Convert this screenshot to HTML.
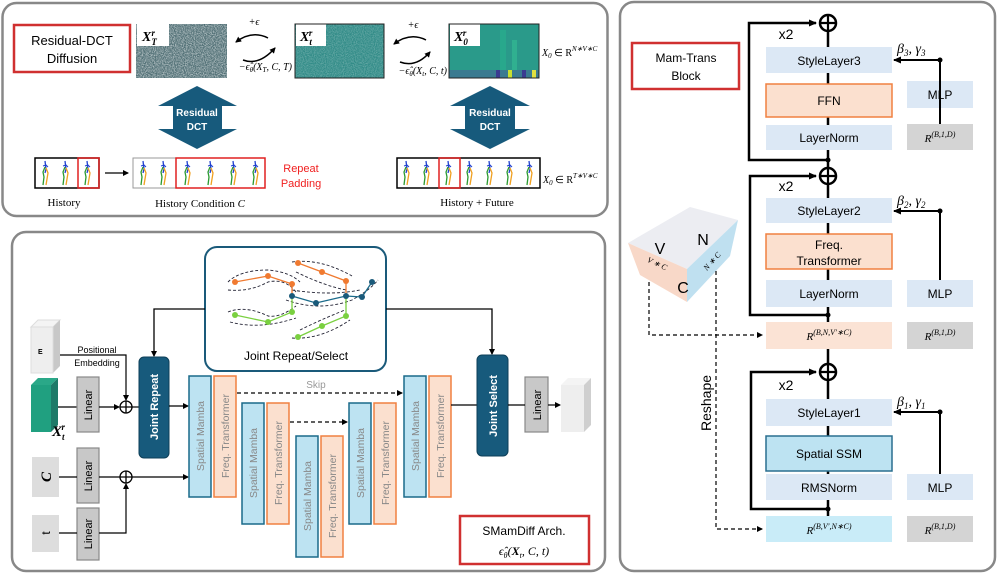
<!DOCTYPE html>
<html><head><meta charset="utf-8"><style>
body{margin:0;background:#fff}
svg{display:block;font-family:"Liberation Sans",sans-serif}
.m{font-family:"Liberation Serif",serif;font-style:italic}
</style></head><body>
<svg width="997" height="574" viewBox="0 0 997 574" xmlns="http://www.w3.org/2000/svg">
<defs>
<marker id="ah" markerWidth="8" markerHeight="8" refX="7" refY="4" orient="auto" markerUnits="userSpaceOnUse"><path d="M0,0.5 L8,4 L0,7.5z" fill="#000"/></marker>
<marker id="ahs" markerWidth="6" markerHeight="6" refX="5" refY="3" orient="auto" markerUnits="userSpaceOnUse"><path d="M0,0 L6,3 L0,6z" fill="#000"/></marker>
<filter id="nz" x="0" y="0" width="100%" height="100%"><feTurbulence type="fractalNoise" baseFrequency="0.9" numOctaves="2" seed="3"/><feColorMatrix type="matrix" values="0 0 0 0 1  0 0 0 0 1  0 0 0 0 1  1.6 0 0 0 -0.5"/></filter>
<symbol id="fig" viewBox="0 0 12 28" width="12" height="28">
<path d="M5,2 L6,10 L5,14" stroke="#2040d0" stroke-width="1.3" fill="none"/>
<path d="M3,7 L6,6 L8,8" stroke="#2040d0" stroke-width="1" fill="none"/>
<path d="M5,8 L3,13 L4,18 L3,26" stroke="#2a9a30" stroke-width="1.3" fill="none"/>
<path d="M6,9 L8,14 L7,20 L6,26" stroke="#f0a020" stroke-width="1.3" fill="none"/>
</symbol>
</defs>

<!-- Top-left panel -->
<rect x="2.5" y="3" width="605" height="213" rx="14" fill="#fff" stroke="#888" stroke-width="2.5"/>
<rect x="14" y="25" width="116" height="47" fill="#fff" stroke="#d03030" stroke-width="2.5"/>
<text x="72" y="45" font-size="13" text-anchor="middle">Residual-DCT</text>
<text x="72" y="63" font-size="13" text-anchor="middle">Diffusion</text>

<rect x="136" y="24" width="91" height="54" fill="#4a6a70"/>
<rect x="136" y="24" width="91" height="54" filter="url(#nz)" opacity="0.8"/>
<rect x="137" y="24" width="32" height="22" fill="#fff"/>
<text x="142" y="41" class="m" font-size="14" font-weight="bold">X<tspan font-size="9" dy="4">T</tspan><tspan font-size="9" dy="-9" dx="-5">r</tspan></text>

<rect x="295" y="24" width="89" height="54" fill="#2f8a86"/>
<rect x="295" y="24" width="89" height="54" filter="url(#nz)" opacity="0.35"/>
<rect x="296" y="24" width="30" height="22" fill="#fff"/>
<text x="300" y="41" class="m" font-size="14" font-weight="bold">X<tspan font-size="9" dy="4">t</tspan><tspan font-size="9" dy="-9" dx="-3">r</tspan></text>
<rect x="295" y="24" width="89" height="54" fill="none" stroke="#222" stroke-width="1"/>

<rect x="449" y="24" width="90" height="54" fill="#2a9a8a"/>
<rect x="500" y="30" width="6" height="48" fill="#28a88c"/>
<rect x="512" y="40" width="5" height="38" fill="#30b090"/>
<rect x="449" y="70" width="90" height="8" fill="#3a7a90"/>
<rect x="496" y="70" width="4" height="8" fill="#3a3a90"/><rect x="508" y="70" width="4" height="8" fill="#c8e030"/><rect x="522" y="70" width="4" height="8" fill="#3a3a90"/><rect x="532" y="70" width="4" height="8" fill="#e0e040"/>
<rect x="450" y="24" width="30" height="22" fill="#fff"/>
<text x="454" y="41" class="m" font-size="14" font-weight="bold">X<tspan font-size="9" dy="4">0</tspan><tspan font-size="9" dy="-9" dx="-5">r</tspan></text>
<rect x="449" y="24" width="90" height="54" fill="none" stroke="#222" stroke-width="1"/>

<text x="254" y="25" font-size="10" text-anchor="middle" class="m" font-style="normal">+ϵ</text>
<path d="M268,38 Q252,30 236,42" stroke="#000" stroke-width="1.5" fill="none" marker-end="url(#ahs)"/>
<path d="M243,60 Q259,66 275,48" stroke="#000" stroke-width="1.5" fill="none" marker-end="url(#ahs)"/>
<text x="292" y="70" font-size="10" text-anchor="end" class="m">−ϵ̂<tspan font-size="7" dy="2">θ</tspan><tspan dy="-2">(X</tspan><tspan font-size="7" dy="2">T</tspan><tspan dy="-2">, C, T)</tspan></text>
<text x="413" y="28" font-size="10" text-anchor="middle" class="m" font-style="normal">+ϵ</text>
<path d="M426,40 Q410,32 394,44" stroke="#000" stroke-width="1.5" fill="none" marker-end="url(#ahs)"/>
<path d="M400,62 Q416,68 430,52" stroke="#000" stroke-width="1.5" fill="none" marker-end="url(#ahs)"/>
<text x="447" y="74" font-size="10" text-anchor="end" class="m">−ϵ̂<tspan font-size="7" dy="2">θ</tspan><tspan dy="-2">(X</tspan><tspan font-size="7" dy="2">t</tspan><tspan dy="-2">, C, t)</tspan></text>
<text x="542" y="56" font-size="10" class="m">X<tspan font-size="7" dy="2">0</tspan><tspan dy="-2" font-style="normal"> ∈ R</tspan><tspan font-size="7" dy="-5">N∗V∗C</tspan></text>

<polygon points="197,86 237,106 222,106 222,129 237,129 197,149 158,129 173,129 173,106 158,106" fill="#175a7c"/>
<text x="197" y="116" font-size="10" font-weight="bold" fill="#fff" text-anchor="middle">Residual</text>
<text x="197" y="130" font-size="10" font-weight="bold" fill="#fff" text-anchor="middle">DCT</text>
<polygon points="490,86 530,106 515,106 515,129 530,129 490,149 450,129 465,129 465,106 450,106" fill="#175a7c"/>
<text x="490" y="116" font-size="10" font-weight="bold" fill="#fff" text-anchor="middle">Residual</text>
<text x="490" y="130" font-size="10" font-weight="bold" fill="#fff" text-anchor="middle">DCT</text>

<rect x="35" y="158" width="64" height="30" fill="#fff" stroke="#000" stroke-width="1.5"/>
<use href="#fig" x="40" y="159"/><use href="#fig" x="60" y="159"/><use href="#fig" x="82" y="159"/>
<rect x="78" y="158" width="21" height="30" fill="none" stroke="#e02020" stroke-width="1.5"/>
<line x1="105" y1="173" x2="128" y2="173" stroke="#000" stroke-width="1.3" marker-end="url(#ahs)"/>
<rect x="133" y="158" width="132" height="30" fill="#fff" stroke="#999" stroke-width="1"/>
<use href="#fig" x="138" y="159"/><use href="#fig" x="158" y="159"/><use href="#fig" x="182" y="159"/><use href="#fig" x="205" y="159"/><use href="#fig" x="228" y="159"/><use href="#fig" x="250" y="159"/>
<rect x="176" y="158" width="89" height="30" fill="none" stroke="#e02020" stroke-width="1.5"/>
<text x="301" y="172" font-size="11" fill="#f02020" text-anchor="middle">Repeat</text>
<text x="301" y="187" font-size="11" fill="#f02020" text-anchor="middle">Padding</text>
<rect x="397" y="158" width="143" height="30" fill="#fff" stroke="#000" stroke-width="1.5"/>
<use href="#fig" x="401" y="159"/><use href="#fig" x="421" y="159"/><use href="#fig" x="443" y="159"/><use href="#fig" x="464" y="159"/><use href="#fig" x="484" y="159"/><use href="#fig" x="504" y="159"/><use href="#fig" x="524" y="159"/>
<rect x="439" y="158" width="21" height="30" fill="none" stroke="#e02020" stroke-width="1.5"/>
<text x="543" y="183" font-size="10" class="m">X<tspan font-size="7" dy="2">0</tspan><tspan dy="-2" font-style="normal"> ∈ R</tspan><tspan font-size="7" dy="-5">T∗V∗C</tspan></text>
<text x="64" y="206" font-size="11" text-anchor="middle" font-family="Liberation Serif,serif">History</text>
<text x="200" y="207" font-size="11" text-anchor="middle" font-family="Liberation Serif,serif">History Condition <tspan class="m">C</tspan></text>
<text x="477" y="206" font-size="11" text-anchor="middle" font-family="Liberation Serif,serif">History + Future</text>

<!-- Bottom-left panel -->
<rect x="12" y="232" width="593" height="339" rx="14" fill="#fff" stroke="#888" stroke-width="2.5"/>
<rect x="205" y="247" width="181" height="124" rx="12" fill="#fff" stroke="#1a5a7a" stroke-width="2"/>
<g fill="none" stroke="#223" stroke-width="0.9" stroke-dasharray="3,2">
<path d="M228,282 Q240,270 268,270 Q290,272 300,282 M228,290 Q250,292 268,282 Q285,278 296,292"/>
<path d="M292,262 Q320,258 352,276 M296,272 Q325,286 346,290"/>
<path d="M286,300 Q320,312 352,300 Q370,290 378,280 M292,290 Q330,296 360,290"/>
<path d="M228,312 Q245,305 268,316 Q280,318 296,306 M230,322 Q260,330 296,318"/>
<path d="M292,338 Q320,340 350,320 M300,330 Q320,320 345,310"/>
</g>
<g stroke-width="1.3" fill="none">
<path d="M235,282 L268,276 L292,284 L292,296" stroke="#f07a30"/>
<path d="M298,263 L322,272 L346,281 L346,296" stroke="#f07a30"/>
<path d="M292,296 L316,303 L346,296 L362,297 L372,282" stroke="#1a6a8a"/>
<path d="M235,315 L268,322 L292,312 L292,296" stroke="#7ad040"/>
<path d="M298,337 L322,326 L346,316 L346,296" stroke="#7ad040"/>
</g>
<g fill="#f07a30"><circle cx="235" cy="282" r="3"/><circle cx="268" cy="276" r="3"/><circle cx="292" cy="284" r="3"/><circle cx="298" cy="263" r="3"/><circle cx="322" cy="272" r="3"/><circle cx="346" cy="281" r="3"/></g>
<g fill="#1a5a7a"><circle cx="292" cy="296" r="3"/><circle cx="316" cy="303" r="3"/><circle cx="346" cy="296" r="3"/><circle cx="362" cy="297" r="3"/><circle cx="372" cy="282" r="3"/></g>
<g fill="#7ad040"><circle cx="235" cy="315" r="3"/><circle cx="268" cy="322" r="3"/><circle cx="292" cy="312" r="3"/><circle cx="298" cy="337" r="3"/><circle cx="322" cy="326" r="3"/><circle cx="346" cy="316" r="3"/></g>
<text x="296" y="360" font-size="12" text-anchor="middle">Joint Repeat/Select</text>
<path d="M205,309 H154 V356" stroke="#000" stroke-width="1.3" fill="none" marker-end="url(#ahs)"/>
<path d="M386,309 H492 V354" stroke="#000" stroke-width="1.3" fill="none" marker-end="url(#ahs)"/>

<!-- E cube -->
<polygon points="31,327 38,320 60,320 53,327" fill="#f4f4f4" stroke="#ddd"/>
<polygon points="53,327 60,320 60,366 53,373" fill="#c8c8c8"/>
<rect x="31" y="327" width="22" height="46" fill="#eee" stroke="#ddd"/>
<text x="38" y="354" font-size="7" font-weight="bold">E</text>
<text x="97" y="353" font-size="9" text-anchor="middle">Positional</text>
<text x="97" y="366" font-size="9" text-anchor="middle">Embedding</text>
<path d="M60,355 H126 V400" stroke="#000" stroke-width="1.2" fill="none" marker-end="url(#ahs)"/>
<!-- green cube -->
<polygon points="31,385 38,378 58,378 51,385" fill="#2aa888"/>
<polygon points="51,385 58,378 58,425 51,432" fill="#1e7a68"/>
<rect x="31" y="385" width="20" height="47" fill="#20a080"/>
<text x="52" y="436" class="m" font-size="15" font-weight="bold">X<tspan font-size="9" dy="4">t</tspan><tspan font-size="9" dy="-10" dx="-3">r</tspan></text>
<line x1="58" y1="407" x2="77" y2="407" stroke="#000" stroke-width="1.2"/>
<g fill="#c8c8c8" stroke="#888" stroke-width="1.2">
<rect x="77" y="377" width="22" height="55"/><rect x="77" y="448" width="22" height="55"/><rect x="77" y="508" width="22" height="52"/><rect x="525" y="377" width="23" height="55"/>
</g>
<g font-size="11" text-anchor="middle">
<text transform="translate(92,405) rotate(-90)">Linear</text>
<text transform="translate(92,476) rotate(-90)">Linear</text>
<text transform="translate(92,534) rotate(-90)">Linear</text>
<text transform="translate(541,405) rotate(-90)">Linear</text>
</g>
<rect x="32" y="457" width="27" height="40" fill="#ddd"/>
<text x="46" y="482" class="m" font-size="15" font-weight="bold" text-anchor="middle" transform="rotate(-90 46 477)">C</text>
<rect x="32" y="515" width="27" height="37" fill="#ddd"/>
<text x="46" y="537" font-size="12" text-anchor="middle" transform="rotate(-90 46 533)">t</text>
<line x1="59" y1="477" x2="77" y2="477" stroke="#000" stroke-width="1.2"/>
<line x1="59" y1="533" x2="77" y2="533" stroke="#000" stroke-width="1.2"/>
<line x1="99" y1="407" x2="119" y2="407" stroke="#000" stroke-width="1.2" marker-end="url(#ahs)"/>
<circle cx="126" cy="407" r="6" fill="#fff" stroke="#000" stroke-width="1.3"/><path d="M120,407 H132 M126,401 V413" stroke="#000" stroke-width="1.3"/>
<line x1="132" y1="407" x2="139" y2="407" stroke="#000" stroke-width="1.2"/>
<line x1="99" y1="477" x2="120" y2="477" stroke="#000" stroke-width="1.2"/>
<circle cx="126" cy="477" r="6" fill="#fff" stroke="#000" stroke-width="1.3"/><path d="M120,477 H132 M126,471 V483" stroke="#000" stroke-width="1.3"/>
<path d="M99,533 H126 V484" stroke="#000" stroke-width="1.2" fill="none" marker-end="url(#ahs)"/>
<line x1="132" y1="477" x2="188" y2="477" stroke="#000" stroke-width="1.2" marker-end="url(#ahs)"/>
<rect x="139" y="357" width="30" height="101" rx="5" fill="#175a7c" stroke="#0e3f58"/>
<text transform="translate(158,407) rotate(-90)" font-size="11" font-weight="bold" fill="#fff" text-anchor="middle">Joint Repeat</text>
<line x1="169" y1="406" x2="188" y2="406" stroke="#000" stroke-width="1.2" marker-end="url(#ahs)"/>

<g stroke-width="1.5">
<rect x="189" y="376" width="22" height="121" fill="#bde3f2" stroke="#1a6a8a"/><rect x="214" y="376" width="22" height="121" fill="#fbe0cf" stroke="#f08040"/>
<rect x="242" y="403" width="22" height="121" fill="#bde3f2" stroke="#1a6a8a"/><rect x="267" y="403" width="22" height="121" fill="#fbe0cf" stroke="#f08040"/>
<rect x="296" y="436" width="22" height="121" fill="#bde3f2" stroke="#1a6a8a"/><rect x="321" y="436" width="22" height="121" fill="#fbe0cf" stroke="#f08040"/>
<rect x="349" y="403" width="22" height="121" fill="#bde3f2" stroke="#1a6a8a"/><rect x="374" y="403" width="22" height="121" fill="#fbe0cf" stroke="#f08040"/>
<rect x="404" y="376" width="22" height="121" fill="#bde3f2" stroke="#1a6a8a"/><rect x="429" y="376" width="22" height="121" fill="#fbe0cf" stroke="#f08040"/>
</g>
<g font-size="10.5" fill="#888" text-anchor="middle">
<text transform="translate(204,436) rotate(-90)">Spatial Mamba</text><text transform="translate(229,436) rotate(-90)">Freq. Transformer</text>
<text transform="translate(257,463) rotate(-90)">Spatial Mamba</text><text transform="translate(282,463) rotate(-90)">Freq. Transformer</text>
<text transform="translate(311,496) rotate(-90)">Spatial Mamba</text><text transform="translate(336,496) rotate(-90)">Freq. Transformer</text>
<text transform="translate(364,463) rotate(-90)">Spatial Mamba</text><text transform="translate(389,463) rotate(-90)">Freq. Transformer</text>
<text transform="translate(419,436) rotate(-90)">Spatial Mamba</text><text transform="translate(444,436) rotate(-90)">Freq. Transformer</text>
</g>
<line x1="237" y1="393" x2="402" y2="393" stroke="#000" stroke-width="1.3" stroke-dasharray="4,3" marker-end="url(#ahs)"/>
<text x="316" y="388" font-size="10" fill="#999" text-anchor="middle">Skip</text>
<line x1="290" y1="422" x2="347" y2="422" stroke="#000" stroke-width="1.3" stroke-dasharray="4,3" marker-end="url(#ahs)"/>
<line x1="451" y1="405" x2="477" y2="405" stroke="#000" stroke-width="1.2"/>
<rect x="477" y="355" width="31" height="101" rx="5" fill="#175a7c" stroke="#0e3f58"/>
<text transform="translate(497,406) rotate(-90)" font-size="11" font-weight="bold" fill="#fff" text-anchor="middle">Joint Select</text>
<line x1="508" y1="405" x2="525" y2="405" stroke="#000" stroke-width="1.2"/>
<line x1="548" y1="405" x2="560" y2="405" stroke="#000" stroke-width="1.2" marker-end="url(#ahs)"/>
<polygon points="561,385 568,378 591,378 584,385" fill="#f4f4f4"/>
<polygon points="584,385 591,378 591,425 584,432" fill="#cfcfcf"/>
<rect x="561" y="385" width="23" height="47" fill="#eee"/>
<rect x="460" y="516" width="129" height="48" fill="#fff" stroke="#d03030" stroke-width="2.5"/>
<text x="524" y="535" font-size="12" text-anchor="middle">SMamDiff Arch.</text>
<text x="524" y="555" font-size="12" text-anchor="middle" class="m">ϵ̂<tspan font-size="8" dy="3">θ</tspan><tspan dy="-3">(</tspan><tspan font-weight="bold">X</tspan><tspan font-size="8" dy="3">t</tspan><tspan dy="-3">, C, t)</tspan></text>

<!-- Right panel -->
<rect x="620" y="2" width="375" height="569" rx="14" fill="#fff" stroke="#888" stroke-width="2.5"/>
<rect x="632" y="43" width="107" height="46" fill="#fff" stroke="#d03030" stroke-width="2.5"/>
<text x="686" y="62" font-size="12" text-anchor="middle">Mam-Trans</text>
<text x="686" y="80" font-size="12" text-anchor="middle">Block</text>

<line x1="828" y1="30" x2="828" y2="516" stroke="#000" stroke-width="2.5"/>
<g fill="#dce8f5">
<rect x="766" y="47" width="126" height="26"/><rect x="766" y="125" width="126" height="25"/>
<rect x="766" y="198" width="126" height="25"/><rect x="766" y="280" width="126" height="27"/>
<rect x="766" y="399" width="126" height="27"/><rect x="766" y="474" width="126" height="26"/>
<rect x="907" y="81" width="66" height="27"/><rect x="907" y="280" width="66" height="27"/><rect x="907" y="474" width="66" height="26"/>
</g>
<rect x="766" y="84" width="126" height="33" fill="#fbe0cf" stroke="#f08040" stroke-width="1.5"/>
<rect x="766" y="234" width="126" height="35" fill="#fbe0cf" stroke="#f08040" stroke-width="1.5"/>
<rect x="766" y="436" width="126" height="35" fill="#bde3f2" stroke="#2a6f8f" stroke-width="1.5"/>
<rect x="766" y="322" width="126" height="27" fill="#fbe3d5"/>
<rect x="766" y="516" width="126" height="26" fill="#c9ecf8"/>
<g fill="#d4d4d4"><rect x="907" y="124" width="66" height="26"/><rect x="907" y="322" width="66" height="27"/><rect x="907" y="516" width="66" height="26"/></g>
<g font-size="12" text-anchor="middle">
<text x="829" y="65">StyleLayer3</text><text x="829" y="105">FFN</text><text x="829" y="142">LayerNorm</text>
<text x="829" y="215">StyleLayer2</text><text x="829" y="249">Freq.</text><text x="829" y="265">Transformer</text><text x="829" y="298">LayerNorm</text>
<text x="829" y="417">StyleLayer1</text><text x="829" y="458">Spatial SSM</text><text x="829" y="492">RMSNorm</text>
<text x="940" y="99">MLP</text><text x="940" y="298">MLP</text><text x="940" y="492">MLP</text>
</g>
<g font-size="11" text-anchor="middle" font-family="Liberation Serif,serif" font-style="italic">
<text x="940" y="142">R<tspan font-size="8" dy="-5">(B,1,D)</tspan></text>
<text x="940" y="340">R<tspan font-size="8" dy="-5">(B,1,D)</tspan></text>
<text x="940" y="534">R<tspan font-size="8" dy="-5">(B,1,D)</tspan></text>
<text x="829" y="340">R<tspan font-size="8" dy="-5">(B,N,V′∗C)</tspan></text>
<text x="829" y="534">R<tspan font-size="8" dy="-5">(B,V′,N∗C)</tspan></text>
</g>
<!-- loops -->
<g stroke="#000" stroke-width="2.5" fill="none">
<path d="M828,160 H749 V23 H816" marker-end="url(#ah)"/>
<path d="M828,315 H750 V176 H816" marker-end="url(#ah)"/>
<path d="M828,509 H751 V372 H816" marker-end="url(#ah)"/>
</g>
<g fill="#fff" stroke="#000" stroke-width="2.5">
<circle cx="828" cy="23" r="8"/><circle cx="828" cy="176" r="8"/><circle cx="828" cy="372" r="8"/>
</g>
<path d="M820,23 H836 M828,15 V31 M820,176 H836 M828,168 V184 M820,372 H836 M828,364 V380" stroke="#000" stroke-width="2.2"/>
<g fill="#000"><circle cx="828" cy="160" r="2.5"/><circle cx="828" cy="315" r="2.5"/><circle cx="828" cy="509" r="2.5"/></g>
<g font-size="14" text-anchor="middle"><text x="786" y="39">x2</text><text x="786" y="191">x2</text><text x="786" y="390">x2</text></g>
<g stroke="#000" stroke-width="2" fill="none">
<path d="M940,124 V60 H894" marker-end="url(#ah)"/>
<path d="M940,280 V211 H894" marker-end="url(#ah)"/>
<path d="M940,474 V412 H894" marker-end="url(#ah)"/>
</g>
<g fill="#000"><circle cx="940" cy="60" r="2.5"/><circle cx="940" cy="211" r="2.5"/><circle cx="940" cy="412" r="2.5"/></g>
<g font-size="14" font-family="Liberation Serif,serif" font-style="italic">
<text x="897" y="53">β<tspan font-size="9" dy="3">3</tspan><tspan dy="-3">, γ</tspan><tspan font-size="9" dy="3">3</tspan></text>
<text x="897" y="205">β<tspan font-size="9" dy="3">2</tspan><tspan dy="-3">, γ</tspan><tspan font-size="9" dy="3">2</tspan></text>
<text x="897" y="406">β<tspan font-size="9" dy="3">1</tspan><tspan dy="-3">, γ</tspan><tspan font-size="9" dy="3">1</tspan></text>
</g>
<!-- cube -->
<polygon points="628,243 690,207 738,220 687,269" fill="#ecedf2"/>
<polygon points="628,243 687,269 687,302 640,275" fill="#f8d8c8"/>
<polygon points="687,269 738,220 730,256 687,302" fill="#bfe0f0"/>
<text x="660" y="254" font-size="16" text-anchor="middle">V</text>
<text x="703" y="245" font-size="16" text-anchor="middle">N</text>
<text x="683" y="293" font-size="16" text-anchor="middle">C</text>
<text transform="translate(656,266) rotate(25)" font-size="8" font-family="Liberation Serif,serif" font-style="italic" text-anchor="middle">V ∗ C</text>
<text transform="translate(714,263) rotate(-48)" font-size="8" font-family="Liberation Serif,serif" font-style="italic" text-anchor="middle">N ∗ C</text>
<g stroke="#000" stroke-width="1.2" stroke-dasharray="4,3" fill="none">
<path d="M649,282 V335 H762" marker-end="url(#ahs)"/>
<path d="M716,271 V529 H762" marker-end="url(#ahs)"/>
</g>
<text transform="translate(711,403) rotate(-90)" font-size="14" text-anchor="middle">Reshape</text>
</svg>
</body></html>
